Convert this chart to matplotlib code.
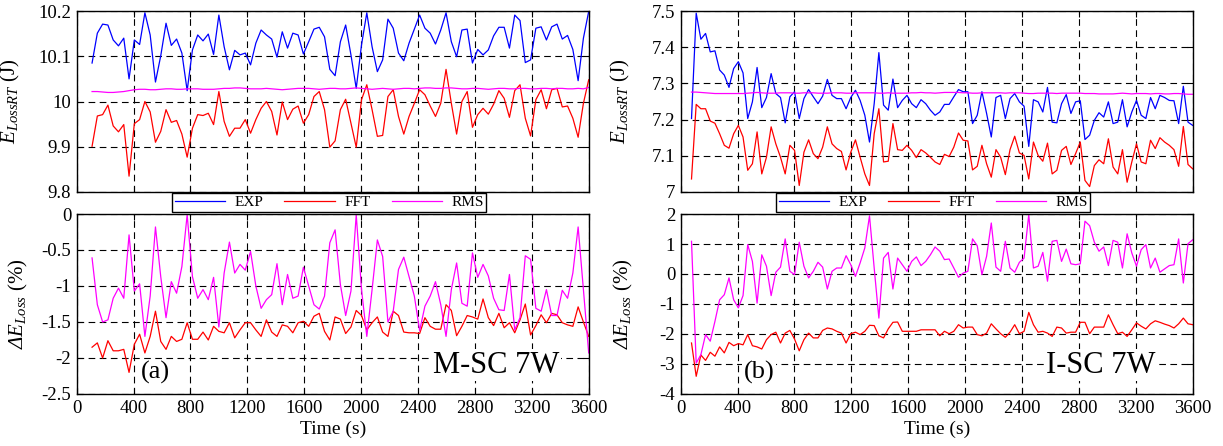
import numpy as np
import matplotlib
matplotlib.use("Agg")
import matplotlib.pyplot as plt

plt.rcParams['font.family'] = ['Liberation Serif', 'DejaVu Serif']
plt.rcParams['mathtext.fontset'] = 'custom'
plt.rcParams['mathtext.rm'] = 'Liberation Serif'
plt.rcParams['mathtext.it'] = 'Liberation Serif:italic'
plt.rcParams['mathtext.sf'] = 'Liberation Serif:italic'  # used for the italic Delta
plt.rcParams['axes.unicode_minus'] = False

# ---------- Panel (a): M-SC 7W ----------
exp_a = [10.085, 10.151, 10.171, 10.169, 10.136, 10.123, 10.140, 10.050, 10.136, 10.126,
         10.196, 10.147, 10.043, 10.101, 10.173, 10.124, 10.138, 10.107, 10.024, 10.114,
         10.147, 10.134, 10.149, 10.104, 10.191, 10.121, 10.070, 10.113, 10.103, 10.107,
         10.081, 10.129, 10.158, 10.147, 10.138, 10.098, 10.154, 10.118, 10.151, 10.147,
         10.105, 10.132, 10.160, 10.164, 10.143, 10.071, 10.057, 10.132, 10.169, 10.103,
         10.029, 10.125, 10.196, 10.121, 10.066, 10.092, 10.182, 10.162, 10.107, 10.090,
         10.129, 10.160, 10.191, 10.162, 10.151, 10.127, 10.158, 10.196, 10.132, 10.099,
         10.158, 10.160, 10.085, 10.115, 10.103, 10.114, 10.145, 10.164, 10.164, 10.118,
         10.191, 10.179, 10.086, 10.092, 10.162, 10.165, 10.136, 10.165, 10.171, 10.138,
         10.146, 10.115, 10.046, 10.140, 10.199]
fft_a = [9.901, 9.968, 9.971, 9.992, 9.946, 9.933, 9.949, 9.835, 9.951, 9.960,
         10.000, 9.977, 9.910, 9.934, 9.982, 9.954, 9.958, 9.928, 9.877, 9.941,
         9.971, 9.969, 9.974, 9.949, 10.022, 9.956, 9.923, 9.941, 9.941, 9.960,
         9.930, 9.960, 9.985, 10.000, 9.978, 9.926, 9.999, 9.960, 9.983, 9.990,
         9.952, 9.971, 10.011, 10.022, 9.982, 9.899, 9.913, 9.982, 10.005, 9.952,
         9.899, 10.004, 10.037, 9.982, 9.923, 9.925, 10.011, 10.026, 9.967, 9.928,
         9.967, 9.996, 10.026, 10.015, 9.990, 9.967, 9.996, 10.071, 9.996, 9.928,
         10.000, 10.022, 9.943, 9.971, 9.985, 9.972, 9.994, 10.024, 10.007, 9.965,
         10.024, 10.037, 9.963, 9.924, 10.004, 10.026, 9.984, 10.026, 10.029, 9.988,
         9.990, 9.963, 9.921, 9.996, 10.048]
rms_a = [10.022, 10.022, 10.021, 10.020, 10.020, 10.021, 10.022, 10.024, 10.026, 10.027,
         10.027, 10.026, 10.026, 10.027, 10.028, 10.028, 10.027, 10.027, 10.028, 10.028,
         10.028, 10.027, 10.027, 10.027, 10.028, 10.029, 10.029, 10.030, 10.030, 10.029,
         10.028, 10.028, 10.028, 10.029, 10.028, 10.027, 10.026, 10.027, 10.028, 10.029,
         10.029, 10.029, 10.028, 10.027, 10.028, 10.029, 10.029, 10.028, 10.028, 10.029,
         10.030, 10.029, 10.028, 10.027, 10.028, 10.029, 10.028, 10.027, 10.028, 10.029,
         10.029, 10.028, 10.029, 10.030, 10.030, 10.029, 10.029, 10.030, 10.030, 10.029,
         10.028, 10.028, 10.029, 10.029, 10.028, 10.027, 10.028, 10.029, 10.029, 10.028,
         10.028, 10.029, 10.029, 10.028, 10.028, 10.029, 10.029, 10.028, 10.029, 10.029,
         10.028, 10.028, 10.029, 10.028, 10.031]
d_fft_a = [-1.85, -1.79, -2.00, -1.76, -1.90, -1.90, -1.88, -2.20, -1.81, -1.67,
           -1.93, -1.70, -1.35, -1.77, -1.88, -1.70, -1.77, -1.74, -1.51, -1.74,
           -1.74, -1.64, -1.75, -1.56, -1.63, -1.65, -1.51, -1.72, -1.61, -1.51,
           -1.51, -1.61, -1.70, -1.47, -1.64, -1.70, -1.54, -1.56, -1.65, -1.51,
           -1.49, -1.56, -1.42, -1.38, -1.63, -1.75, -1.43, -1.46, -1.66, -1.57,
           -1.34, -1.41, -1.61, -1.51, -1.43, -1.64, -1.70, -1.35, -1.41, -1.64,
           -1.65, -1.65, -1.66, -1.44, -1.56, -1.60, -1.60, -1.26, -1.34, -1.69,
           -1.56, -1.41, -1.43, -1.46, -1.18, -1.44, -1.55, -1.38, -1.58, -1.51,
           -1.65, -1.47, -1.25, -1.68, -1.55, -1.40, -1.51, -1.38, -1.40, -1.51,
           -1.54, -1.56, -1.29, -1.50, -1.70]
d_rms_a = [-0.61, -1.26, -1.50, -1.47, -1.17, -1.03, -1.17, -0.29, -1.07, -0.97,
           -1.70, -1.14, -0.18, -0.87, -1.44, -0.94, -1.10, -0.73, -0.01, -0.87,
           -1.17, -1.05, -1.19, -0.88, -1.57, -0.82, -0.39, -0.82, -0.70, -0.78,
           -0.52, -1.00, -1.31, -1.19, -1.12, -0.69, -1.26, -0.84, -1.17, -1.14,
           -0.74, -1.00, -1.26, -1.32, -1.14, -0.40, -0.22, -0.98, -1.41, -1.07,
           -0.01, -1.05, -1.70, -1.05, -0.36, -0.59, -1.50, -1.35, -0.77, -0.60,
           -0.87, -1.14, -1.62, -1.28, -1.14, -0.94, -1.26, -1.70, -1.05, -0.68,
           -1.24, -1.28, -0.54, -0.88, -0.70, -0.86, -1.17, -1.33, -1.34, -0.84,
           -1.61, -1.44, -0.58, -0.63, -1.31, -1.35, -1.05, -1.41, -1.41, -1.06,
           -1.17, -0.82, -0.18, -1.05, -1.93]

# ---------- Panel (b): I-SC 7W ----------
exp_b = [7.203, 7.494, 7.422, 7.438, 7.387, 7.390, 7.337, 7.323, 7.289, 7.341,
         7.360, 7.329, 7.203, 7.249, 7.344, 7.233, 7.261, 7.327, 7.272, 7.261,
         7.191, 7.263, 7.277, 7.203, 7.258, 7.283, 7.263, 7.244, 7.265, 7.311,
         7.267, 7.258, 7.258, 7.230, 7.261, 7.281, 7.253, 7.212, 7.138, 7.244,
         7.385, 7.240, 7.226, 7.312, 7.233,
         7.253, 7.267, 7.244, 7.233, 7.255, 7.244, 7.226, 7.212, 7.221, 7.242,
         7.242, 7.263, 7.283, 7.277, 7.277, 7.189, 7.212, 7.277, 7.217, 7.152,
         7.261, 7.267, 7.203, 7.258, 7.272, 7.249, 7.237, 7.126, 7.255, 7.249,
         7.221, 7.289, 7.193, 7.191, 7.244, 7.269, 7.217, 7.249, 7.252, 7.145,
         7.157, 7.198, 7.219, 7.207, 7.249, 7.189, 7.193, 7.255, 7.180, 7.221,
         7.253, 7.212, 7.203, 7.261, 7.230, 7.267, 7.261, 7.253, 7.252, 7.189,
         7.292, 7.193, 7.184]
fft_b = [7.036, 7.242, 7.230, 7.230, 7.196, 7.190, 7.161, 7.129, 7.121, 7.161,
         7.184, 7.152, 7.060, 7.078, 7.166, 7.050, 7.096, 7.180, 7.133, 7.096,
         7.050, 7.129, 7.115, 7.018, 7.110, 7.144, 7.106, 7.092, 7.124, 7.180,
         7.133, 7.120, 7.112, 7.061, 7.110, 7.144, 7.096, 7.050, 7.018, 7.161,
         7.230, 7.083, 7.085, 7.189, 7.117,
         7.115, 7.129, 7.115, 7.095, 7.117, 7.108, 7.096, 7.083, 7.076, 7.104,
         7.098, 7.124, 7.163, 7.143, 7.141, 7.061, 7.071, 7.129, 7.078, 7.041,
         7.117, 7.096, 7.048, 7.117, 7.154, 7.108, 7.101, 7.036, 7.138, 7.101,
         7.085, 7.135, 7.050, 7.060, 7.115, 7.126, 7.076, 7.106, 7.138, 7.032,
         7.015, 7.073, 7.089, 7.078, 7.147, 7.069, 7.050, 7.117, 7.027, 7.083,
         7.133, 7.083, 7.078, 7.143, 7.120, 7.150, 7.138, 7.129, 7.117, 7.071,
         7.181, 7.076, 7.064]
rms_b = [7.276, 7.276, 7.275, 7.274, 7.273, 7.272, 7.272, 7.272, 7.272, 7.272,
         7.272, 7.272, 7.273, 7.274, 7.275, 7.274, 7.273, 7.273, 7.273, 7.274,
         7.274, 7.274, 7.273, 7.273, 7.274, 7.274, 7.274, 7.273, 7.273, 7.273,
         7.274, 7.274, 7.274, 7.273, 7.273, 7.274, 7.274, 7.274, 7.274, 7.274,
         7.273, 7.273, 7.274, 7.273, 7.273,
         7.273, 7.273, 7.274, 7.274, 7.275, 7.274, 7.274, 7.273, 7.274, 7.275,
         7.275, 7.275, 7.275, 7.274, 7.274, 7.273, 7.273, 7.274, 7.274, 7.274,
         7.274, 7.274, 7.273, 7.274, 7.274, 7.274, 7.273, 7.272, 7.272, 7.273,
         7.273, 7.273, 7.273, 7.272, 7.273, 7.273, 7.273, 7.273, 7.273, 7.272,
         7.272, 7.272, 7.271, 7.271, 7.271, 7.271, 7.272, 7.273, 7.272, 7.271,
         7.272, 7.272, 7.272, 7.271, 7.272, 7.272, 7.271, 7.271, 7.272, 7.272,
         7.271, 7.270, 7.270]
d_fft_b = [-2.30, -3.41, -2.70, -2.88, -2.61, -2.74, -2.43, -2.63, -2.28, -2.39,
           -2.32, -2.36, -2.02, -2.39, -2.43, -2.50, -2.19, -2.02, -1.94, -2.30,
           -1.97, -1.88, -2.17, -2.56, -2.19, -1.97, -2.13, -2.13, -1.88, -1.80,
           -1.83, -1.91, -1.97, -2.30, -1.99, -1.94, -2.02, -1.91, -1.71, -1.72,
           -2.06, -2.13, -1.83, -1.61, -1.60,
           -1.91, -1.91, -1.91, -1.91, -1.86, -1.86, -1.86, -1.86, -2.06, -1.91,
           -1.99, -1.91, -1.69, -1.80, -1.77, -1.77, -2.02, -2.06, -1.97, -1.66,
           -1.83, -1.99, -2.11, -1.94, -1.69, -1.99, -1.91, -1.28, -1.69, -1.94,
           -1.91, -1.97, -2.08, -1.77, -1.80, -1.97, -1.94, -1.94, -1.61, -1.61,
           -1.99, -1.77, -1.77, -1.77, -1.36, -1.69, -1.99, -1.94, -2.08, -1.86,
           -1.63, -1.74, -1.83, -1.66, -1.56, -1.61, -1.67, -1.72, -1.80, -1.66,
           -1.47, -1.66, -1.69]
d_rms_b = [1.09, -2.97, -2.69, -2.02, -2.24, -1.58, -0.86, -0.69, -0.13, -0.86,
           -1.13, -0.72, 0.98, 0.42, -0.97, 0.64, 0.26, -0.72, 0.06, 0.23,
           1.17, 0.09, -0.02, 1.06, 0.26, -0.13, 0.09, 0.39, 0.23, -0.50,
           0.09, 0.20, 0.20, 0.61, 0.31, -0.08, 0.37, 0.87, 1.94, 0.20,
           -1.47, 0.53, 0.72, -0.50, 0.53,
           0.31, 0.09, 0.42, 0.57, 0.28, 0.42, 0.64, 0.90, 0.76, 0.48,
           0.50, 0.20, -0.11, 0.03, 0.09, 1.17, 0.94, -0.02, 0.59, 1.70,
           0.23, 0.09, 1.09, 0.20, 0.06, 0.39, 0.53, 1.98, 0.20, 0.26,
           0.72, -0.24, 1.09, 1.12, 0.42, 0.83, 0.34, 0.31, 0.34, 1.76,
           1.61, 1.06, 0.76, 0.90, 0.28, 1.12, 1.06, 0.20, 1.34, 0.70,
           0.26, 0.81, 0.98, 0.20, 0.53, 0.06, 0.17, 0.28, 0.31, 1.17,
           -0.30, 1.01, 1.14]

x_ticks = list(range(0, 3601, 400))
panels = [
    dict(exp=exp_a, fft=fft_a, rms=rms_a, dfft=d_fft_a, drms=d_rms_a, t0=108,
         ylim_top=(9.8, 10.2), yt_top=[9.8, 9.9, 10.0, 10.1, 10.2],
         ylim_bot=(-2.5, 0), yt_bot=[-2.5, -2, -1.5, -1, -0.5, 0],
         tag='(a)', name='M-SC 7W', left=76.7, lab=(-0.107, -0.091)),
    dict(exp=exp_b, fft=fft_b, rms=rms_b, dfft=d_fft_b, drms=d_rms_b, t0=76,
         ylim_top=(7.0, 7.5), yt_top=[7.0, 7.1, 7.2, 7.3, 7.4, 7.5],
         ylim_bot=(-4, 2), yt_bot=[-4, -3, -2, -1, 0, 1, 2],
         tag='(b)', name='I-SC 7W', left=680.7, lab=(-0.096, -0.089)),
]

W, H = 1223, 446
fig = plt.figure(figsize=(W / 100, H / 100), dpi=100)

grid_kw = dict(color='black', linestyle=(0, (6, 4)), linewidth=0.8)
tick_fs = 13.5
box = dict(facecolor='white', edgecolor='none', pad=1)

def style(ax):
    ax.tick_params(direction='in', top=True, right=True, length=4, width=0.8,
                   labelsize=tick_fs, pad=4)
    for s in ax.spines.values():
        s.set_linewidth(1.0)
    ax.grid(True, **grid_kw)

for p in panels:
    n = min(len(p['exp']), len(p['fft']), len(p['rms']), len(p['dfft']), len(p['drms']))
    t = np.linspace(p['t0'], 3600, n)
    x0 = p['left'] / W
    w = 512 / W
    ax1 = fig.add_axes([x0, 1 - 192 / H, w, 181 / H])
    ax2 = fig.add_axes([x0, 1 - 394 / H, w, 180 / H])

    l1, = ax1.plot(t, p['exp'][:n], color='#0000ff', lw=0.9, label='EXP')
    l2, = ax1.plot(t, p['fft'][:n], color='#ff0000', lw=0.9, label='FFT')
    l3, = ax1.plot(t, p['rms'][:n], color='#ff00ff', lw=0.9, label='RMS')
    ax1.set_xlim(0, 3600)
    ax1.set_ylim(*p['ylim_top'])
    ax1.set_yticks(p['yt_top'])
    ax1.set_yticklabels(['%g' % v for v in p['yt_top']])
    ax1.set_xticks(x_ticks)
    ax1.set_xticklabels([])
    ax1.set_ylabel(r'$E_{LossRT}$ (J)', fontsize=15)
    ax1.yaxis.set_label_coords(p['lab'][0], 0.5)
    style(ax1)

    ax2.plot(t, p['dfft'][:n], color='#ff0000', lw=0.9)
    ax2.plot(t, p['drms'][:n], color='#ff00ff', lw=0.9)
    ax2.set_xlim(0, 3600)
    ax2.set_ylim(*p['ylim_bot'])
    ax2.set_yticks(p['yt_bot'])
    ax2.set_yticklabels(['%g' % v for v in p['yt_bot']])
    ax2.set_xticks(x_ticks)
    ax2.set_xticklabels([str(v) for v in x_ticks])
    ax2.set_xlabel('Time (s)', fontsize=14, labelpad=3)
    ax2.set_ylabel(r'$\mathsf{Δ}E_{Loss}$ (%)', fontsize=15)
    ax2.yaxis.set_label_coords(p['lab'][1], 0.5)
    style(ax2)

    ax2.text(0.153, 0.12, p['tag'], transform=ax2.transAxes, fontsize=19,
             ha='center', va='center', bbox=box, zorder=5)
    ax2.text(0.82, 0.16, p['name'], transform=ax2.transAxes, fontsize=22,
             ha='center', va='center', bbox=box, zorder=5)

    leg_x = (p['left'] + 0.493 * 512) / W
    fig.legend([l1, l2, l3], ['EXP', 'FFT', 'RMS'], ncol=3, loc='center',
               bbox_to_anchor=(leg_x, 1 - 202.5 / H), fontsize=11,
               frameon=True, fancybox=False, edgecolor='black', framealpha=1,
               handlelength=3.3, columnspacing=1.4, handletextpad=0.6,
               borderpad=0.15, borderaxespad=0)

fig.savefig('out.png', dpi=100)
